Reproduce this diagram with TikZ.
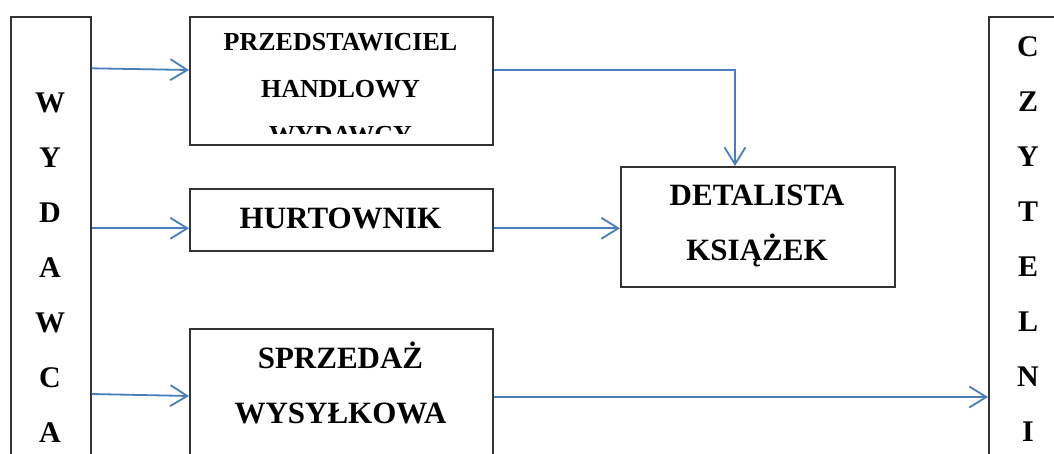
\documentclass[tikz,border=0pt]{standalone}
\usepackage{fontspec}
\setmainfont{Liberation Serif}
\usetikzlibrary{arrows.meta,calc}
\definecolor{arrblue}{RGB}{74,126,187}
\begin{document}
\begin{tikzpicture}[x=1pt,y=-1pt,
  box/.style={draw=black!80, line width=1.6pt, inner sep=0pt, anchor=north west},
  lbl/.style={font=\bfseries\fontsize{31}{55}\selectfont, align=center, anchor=base, inner sep=0pt},
  col/.style={font=\bfseries\fontsize{30}{55}\selectfont, align=center, anchor=base, inner sep=0pt},
  arr/.style={draw=arrblue, line width=1.8pt, -{Straight Barb[length=17pt,width=21pt]}}]
\useasboundingbox (0,0) rectangle (1054,453);
\fill[white] (0,0) rectangle (1054,453);
\clip (0,0) rectangle (1054,453);
\node[box, minimum width=80pt, minimum height=460pt] (wyd) at (10,16) {};
\node[col] (wydT) at (50,442.5) {W\\Y\\D\\A\\W\\C\\A};
\node[box, minimum width=303pt, minimum height=128pt] (prz) at (189,16) {};
\begin{scope}
  \clip (189,16) rectangle (492,133);
  \node[lbl, font=\bfseries\fontsize{26}{46.6}\selectfont] (przT) at (340.5,143.9) {PRZEDSTAWICIEL\\HANDLOWY\\WYDAWCY};
\end{scope}
\node[box, minimum width=303pt, minimum height=62pt] (hurt) at (189,188) {};
\node[lbl] (hurtT) at (340.5,228.3) {HURTOWNIK};
\node[box, minimum width=303pt, minimum height=140pt] (sprz) at (189,328) {};
\node[lbl] (sprzT) at (340.5,423) {SPRZEDAŻ\\WYSYŁKOWA};
\node[box, minimum width=274pt, minimum height=120pt] (det) at (620,166) {};
\node[lbl] (detT) at (757,260) {DETALISTA\\KSIĄŻEK};
\node[box, minimum width=90pt, minimum height=460pt] (czyt) at (988,16) {};
\node[col] (czytT) at (1028,441) {C\\Z\\Y\\T\\E\\L\\N\\I};
\draw[arr] ($(wyd.north east)+(0,52.3)$) -- ($(prz.north west)+(0,54)$);
\draw[arr] ($(prz.north east)+(0,54)$) -| ($(det.north west)+(115,0)$);
\draw[arr] ($(wyd.north east)+(0,212.3)$) -- ($(hurt.north west)+(0,40.3)$);
\draw[arr] ($(hurt.north east)+(0,40.3)$) -- ($(det.north west)+(0,62.3)$);
\draw[arr] ($(wyd.north east)+(0,378)$) -- ($(sprz.north west)+(0,68)$);
\draw[arr] ($(sprz.north east)+(0,69)$) -- ($(czyt.north west)+(0,381)$);
\end{tikzpicture}
\end{document}
